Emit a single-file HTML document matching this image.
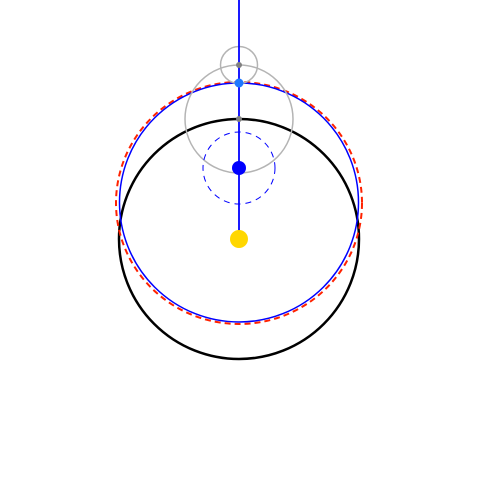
<!DOCTYPE html>
<html><head><style>body{margin:0;background:#fff}svg{display:block}</style></head>
<body>
<svg width="480" height="480" viewBox="0 0 480 480">
<rect width="480" height="480" fill="#fff"/>
<circle cx="239" cy="239" r="120" fill="none" stroke="#000" stroke-width="2.5"/>
<ellipse cx="239" cy="203" rx="123" ry="121" fill="none" stroke="#ff2200" stroke-width="2" stroke-dasharray="6,4"/>
<circle cx="239" cy="202.5" r="119.5" fill="none" stroke="#0000ff" stroke-width="1.5"/>
<circle cx="239" cy="119" r="54" fill="none" stroke="#b4b4b4" stroke-width="1.5"/>
<circle cx="239" cy="65" r="18.5" fill="none" stroke="#b4b4b4" stroke-width="1.5"/>
<circle cx="239" cy="168" r="36" fill="none" stroke="#0000ff" stroke-width="1" stroke-dasharray="6,5"/>
<line x1="239" y1="0" x2="239" y2="239" stroke="#0000ff" stroke-width="1.8"/>
<circle cx="239" cy="239" r="9" fill="#ffd700"/>
<circle cx="239" cy="168" r="7" fill="#0000ff"/>
<circle cx="239" cy="83" r="4.5" fill="#1e78ff"/>
<circle cx="239" cy="65" r="3" fill="#808080"/>
<circle cx="239" cy="119" r="3" fill="#808080"/>
</svg>
</body></html>
